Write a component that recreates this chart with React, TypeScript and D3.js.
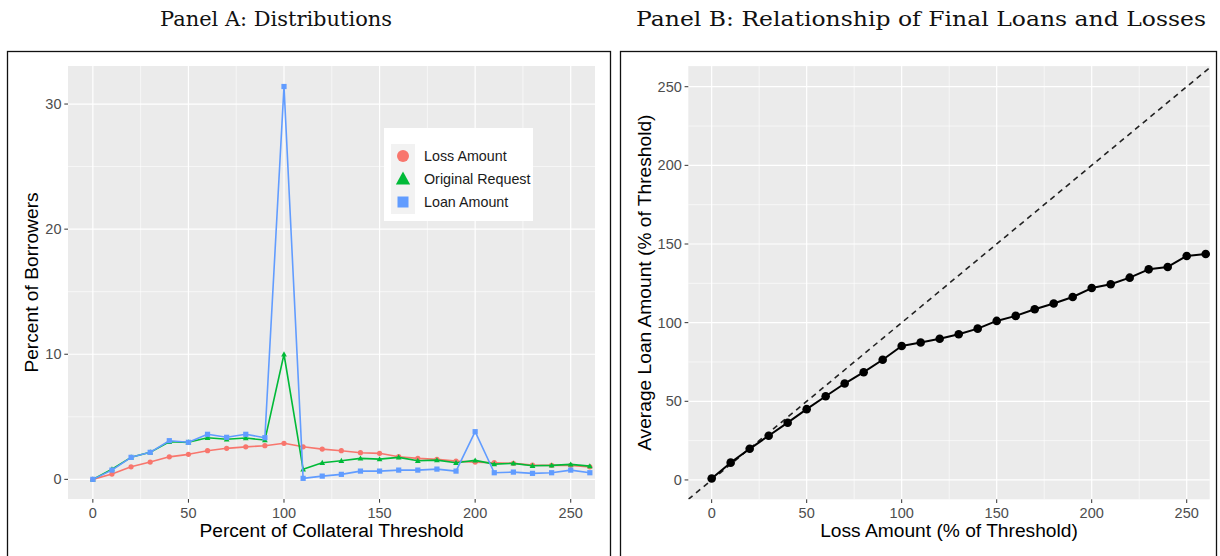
import React from "react";
import * as d3 from "d3";

// Percent of collateral threshold (bin starts)
const pctThreshold = [0, 10, 20, 30, 40, 50, 60, 70, 80, 90, 100, 110, 120, 130, 140, 150, 160, 170, 180, 190, 200, 210, 220, 230, 240, 250, 260];

// Panel A: share of borrowers (%) in each bin
const lossAmount = [0, 0.42, 1.0, 1.38, 1.8, 2.0, 2.29, 2.48, 2.6, 2.69, 2.88, 2.6, 2.42, 2.29, 2.13, 2.08, 1.81, 1.68, 1.6, 1.46, 1.38, 1.33, 1.28, 1.14, 1.12, 1.12, 1.0];
const originalRequest = [0, 0.82, 1.76, 2.16, 3.0, 2.96, 3.33, 3.2, 3.3, 3.14, 10.0, 0.8, 1.33, 1.49, 1.68, 1.62, 1.76, 1.49, 1.54, 1.33, 1.52, 1.22, 1.28, 1.09, 1.12, 1.2, 1.06];
const loanAmount = [0, 0.74, 1.76, 2.16, 3.09, 2.96, 3.6, 3.36, 3.6, 3.33, 31.4, 0.08, 0.26, 0.4, 0.66, 0.66, 0.74, 0.74, 0.82, 0.66, 3.81, 0.53, 0.58, 0.48, 0.53, 0.74, 0.53];

// Panel B: average final loan (% of threshold) by loss bin
const avgLoan = [0.9, 11, 19.8, 28.1, 36.4, 45, 53.2, 61.3, 68.5, 76.4, 85.2, 87.4, 89.8, 92.6, 96.2, 101.1, 104.3, 108.5, 112.2, 116.3, 122, 124.4, 128.6, 133.9, 135.4, 142.4, 143.6];

const xTicks = [0, 50, 100, 150, 200, 250];
const xMinor = [25, 75, 125, 175, 225];
const yTicksA = [0, 10, 20, 30];
const yMinorA = [5, 15, 25];
const yTicksB = [0, 50, 100, 150, 200, 250];
const yMinorB = [25, 75, 125, 175, 225];

const seriesNames = ["Loss Amount", "Original Request", "Loan Amount"];
const seriesColors = ["#F8766D", "#00BA38", "#619CFF"];

const SANS = "'Liberation Sans', Arial, Helvetica, sans-serif";
const SERIF = "'DejaVu Serif', 'Liberation Serif', serif";

const TICK_SIZE = 14.5;
const TITLE_SIZE = 19.2;

function marker(kind: string, cx: number, cy: number, r: number, fill: string, key?: string) {
  if (kind === "circle") return <circle key={key} cx={cx} cy={cy} r={r} fill={fill} />;
  if (kind === "square") return <rect key={key} x={cx - r} y={cy - r} width={2 * r} height={2 * r} fill={fill} />;
  const h = r * 1.9;
  const w = r * 1.1;
  return (
    <path
      key={key}
      d={`M${cx},${cy - h * 0.6}L${cx + w},${cy + h * 0.45}L${cx - w},${cy + h * 0.45}Z`}
      fill={fill}
    />
  );
}

function Grid({ x, y, xMaj, xMin, yMaj, yMin }: any) {
  const [x0, x1] = x.range();
  const [y0, y1] = y.range();
  return (
    <g>
      <rect x={x0} y={y1} width={x1 - x0} height={y0 - y1} fill="#EBEBEB" />
      {yMin.map((v: number) => (
        <line key={"ym" + v} x1={x0} x2={x1} y1={y(v)} y2={y(v)} stroke="#fff" strokeWidth={0.6} />
      ))}
      {xMin.map((v: number) => (
        <line key={"xm" + v} x1={x(v)} x2={x(v)} y1={y0} y2={y1} stroke="#fff" strokeWidth={0.6} />
      ))}
      {yMaj.map((v: number) => (
        <line key={"yM" + v} x1={x0} x2={x1} y1={y(v)} y2={y(v)} stroke="#fff" strokeWidth={1.2} />
      ))}
      {xMaj.map((v: number) => (
        <line key={"xM" + v} x1={x(v)} x2={x(v)} y1={y0} y2={y1} stroke="#fff" strokeWidth={1.2} />
      ))}
    </g>
  );
}

function Axes({ x, y, xMaj, yMaj, xTitle, yTitle, yTitleX }: any) {
  const [x0, x1] = x.range();
  const [y0, y1] = y.range();
  return (
    <g fontFamily={SANS}>
      {yMaj.map((v: number) => (
        <g key={"yt" + v}>
          <line x1={x0 - 3.7} x2={x0} y1={y(v)} y2={y(v)} stroke="#333" strokeWidth={1} />
          <text x={x0 - 6.5} y={y(v)} dy="0.35em" textAnchor="end" fontSize={TICK_SIZE} fill="#4D4D4D">
            {v}
          </text>
        </g>
      ))}
      {xMaj.map((v: number) => (
        <g key={"xt" + v}>
          <line x1={x(v)} x2={x(v)} y1={y0} y2={y0 + 3.7} stroke="#333" strokeWidth={1} />
          <text x={x(v)} y={y0 + 19} textAnchor="middle" fontSize={TICK_SIZE} fill="#4D4D4D">
            {v}
          </text>
        </g>
      ))}
      <text x={(x0 + x1) / 2} y={y0 + 37.5} textAnchor="middle" fontSize={TITLE_SIZE} fill="#000">
        {xTitle}
      </text>
      <text
        transform={`translate(${yTitleX},${(y0 + y1) / 2}) rotate(-90)`}
        textAnchor="middle"
        fontSize={TITLE_SIZE}
        fill="#000"
      >
        {yTitle}
      </text>
    </g>
  );
}

function PanelA() {
  const x = d3.scaleLinear().domain([-13, 262.7]).range([68, 595]);
  const y = d3.scaleLinear().domain([-1.57, 33.04]).range([499, 66]);
  const line = d3
    .line<number>()
    .x((_, i) => x(pctThreshold[i]))
    .y((d) => y(d));
  const series = [lossAmount, originalRequest, loanAmount];
  const shapes = ["circle", "triangle", "square"];
  return (
    <g>
      <Grid x={x} y={y} xMaj={xTicks} xMin={xMinor} yMaj={yTicksA} yMin={yMinorA} />
      {series.map((s, k) => (
        <g key={"s" + k}>
          <path d={line(s) || ""} fill="none" stroke={seriesColors[k]} strokeWidth={1.6} strokeLinejoin="round" />
          {s.map((v, i) => marker(shapes[k], x(pctThreshold[i]), y(v), 2.6, seriesColors[k], "p" + i))}
        </g>
      ))}
      {/* legend */}
      <g fontFamily={SANS}>
        <rect x={384} y={128} width={149} height={93} fill="#fff" />
        <rect x={391} y={144} width={24} height={70} fill="#F2F2F2" />
        {seriesNames.map((n, k) => {
          const cy = 156 + k * 23;
          return (
            <g key={n}>
              {marker(shapes[k], 403, cy, k === 0 ? 6 : k === 1 ? 6.5 : 5.5, seriesColors[k])}
              <text x={424} y={cy} dy="0.35em" fontSize={14.3} fill="#1a1a1a">
                {n}
              </text>
            </g>
          );
        })}
      </g>
      <Axes
        x={x}
        y={y}
        xMaj={xTicks}
        yMaj={yTicksA}
        xTitle="Percent of Collateral Threshold"
        yTitle="Percent of Borrowers"
        yTitleX={38}
      />
    </g>
  );
}

function PanelB() {
  const x = d3.scaleLinear().domain([-12.3, 262.1]).range([688.3, 1209.7]);
  const y = d3.scaleLinear().domain([-12.3, 263.1]).range([499.3, 66.1]);
  const line = d3
    .line<number>()
    .x((_, i) => x(pctThreshold[i]))
    .y((d) => y(d));
  const lo = -12.3;
  const hi = 262.1;
  return (
    <g>
      <defs>
        <clipPath id="clipB">
          <rect x={688.3} y={66.1} width={1209.7 - 688.3} height={499.3 - 66.1} />
        </clipPath>
      </defs>
      <Grid x={x} y={y} xMaj={xTicks} xMin={xMinor} yMaj={yTicksB} yMin={yMinorB} />
      <g clipPath="url(#clipB)">
        <line x1={x(lo)} y1={y(lo)} x2={x(hi)} y2={y(hi)} stroke="#222" strokeWidth={1.6} strokeDasharray="5.5,4.5" />
      </g>
      <path d={line(avgLoan) || ""} fill="none" stroke="#000" strokeWidth={2} strokeLinejoin="round" />
      {avgLoan.map((v, i) => (
        <circle key={"b" + i} cx={x(pctThreshold[i])} cy={y(v)} r={4.3} fill="#000" />
      ))}
      <Axes
        x={x}
        y={y}
        xMaj={xTicks}
        yMaj={yTicksB}
        xTitle="Loss Amount (% of Threshold)"
        yTitle="Average Loan Amount (% of Threshold)"
        yTitleX={651}
      />
    </g>
  );
}

export default function App() {
  return (
    <svg
      width={1220}
      height={556}
      style={{ position: "absolute", left: 0, top: 0, background: "#fff" }}
    >
      <rect x={0} y={0} width={1220} height={556} fill="#fff" />
      <text
        x={276}
        y={26}
        textAnchor="middle"
        fontFamily={SERIF}
        fontSize={21}
        fill="#111"
        textLength={232}
        lengthAdjust="spacingAndGlyphs"
      >
        Panel A: Distributions
      </text>
      <text
        x={921}
        y={26}
        textAnchor="middle"
        fontFamily={SERIF}
        fontSize={21}
        fill="#111"
        textLength={570}
        lengthAdjust="spacingAndGlyphs"
      >
        Panel B: Relationship of Final Loans and Losses
      </text>
      <rect x={7.5} y={51.5} width={603} height={520} fill="none" stroke="#111" strokeWidth={1.3} />
      <rect x={620.5} y={51.5} width={596} height={520} fill="none" stroke="#111" strokeWidth={1.3} />
      <PanelA />
      <PanelB />
    </svg>
  );
}
